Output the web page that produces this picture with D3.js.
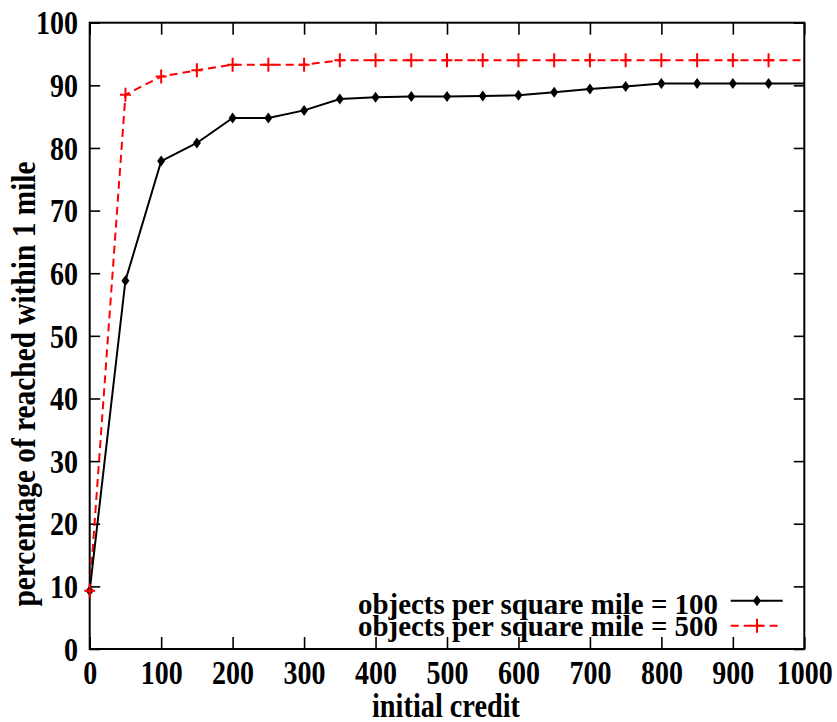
<!DOCTYPE html>
<html>
<head>
<meta charset="utf-8">
<script src="https://cdn.jsdelivr.net/npm/d3@7"></script>
<style>
  html, body { margin: 0; padding: 0; background: #fff; }
  svg { display: block; }
  text { font-family: "Liberation Serif", "Times New Roman", serif; font-weight: bold; fill: #000; }
</style>
</head>
<body>
<svg id="chart" width="837" height="722"></svg>
<script>
// Initial credit values (x) shared by both series
const credits = [0, 50, 100, 150, 200, 250, 300, 350, 400, 450, 500,
                 550, 600, 650, 700, 750, 800, 850, 900, 950, 1000];
// Percentage of objects reached within 1 mile, density 100 per square mile
const reached100 = [9.3, 58.8, 77.9, 80.8, 84.8, 84.8, 86.0, 87.8, 88.1, 88.2, 88.2,
                    88.3, 88.4, 88.9, 89.4, 89.8, 90.3, 90.3, 90.3, 90.3, 90.3];
// Percentage of objects reached within 1 mile, density 500 per square mile
const reached500 = [9.3, 88.5, 91.4, 92.4, 93.3, 93.3, 93.3, 94.0, 94.0, 94.0, 94.0,
                    94.0, 94.0, 94.0, 94.0, 94.0, 94.0, 94.0, 94.0, 94.0, 94.0];
const seriesLabels = ["objects per square mile = 100", "objects per square mile = 500"];
const xTicks = [0, 100, 200, 300, 400, 500, 600, 700, 800, 900, 1000];
const yTicks = [0, 10, 20, 30, 40, 50, 60, 70, 80, 90, 100];
const xTitle = "initial credit";
const yTitle = "percentage of reached within 1 mile";

const svg = d3.select("#chart");
const plot = { left: 89.7, right: 804.3, top: 22.7, bottom: 649 };

const x = d3.scaleLinear().domain([0, 1000]).range([plot.left, plot.right]);
const y = d3.scaleLinear().domain([0, 100]).range([plot.bottom, plot.top]);

// Fit a text element to a given advance width
function fit(sel, width) {
  sel.attr("textLength", width).attr("lengthAdjust", "spacingAndGlyphs");
}

// Axes with inward ticks on all four sides
const axB = svg.append("g").attr("transform", `translate(0,${plot.bottom})`)
  .call(d3.axisBottom(x).tickValues(xTicks).tickSize(-12).tickPadding(0).tickFormat(d3.format("d")));
const axT = svg.append("g").attr("transform", `translate(0,${plot.top})`)
  .call(d3.axisTop(x).tickValues(xTicks).tickSize(-12).tickFormat(""));
const axL = svg.append("g").attr("transform", `translate(${plot.left},0)`)
  .call(d3.axisLeft(y).tickValues(yTicks).tickSize(-10.5).tickPadding(0).tickFormat(d3.format("d")));
const axR = svg.append("g").attr("transform", `translate(${plot.right},0)`)
  .call(d3.axisRight(y).tickValues(yTicks).tickSize(-10.5).tickFormat(""));

[axB, axT, axL, axR].forEach(g => {
  g.select(".domain").remove();
  g.selectAll(".tick line").attr("stroke", "#000").attr("stroke-width", 1.6);
});

axB.selectAll(".tick text")
  .attr("y", 34.5).attr("dy", null)
  .attr("font-size", 34).attr("font-family", null)
  .each(function(d) { fit(d3.select(this), 14 * String(d).length); });

axL.selectAll(".tick text")
  .attr("x", -11.7).attr("dy", "0.33em")
  .attr("font-size", 34).attr("font-family", null)
  .each(function(d) { fit(d3.select(this), 14 * String(d).length); });

// Plot frame
svg.append("rect")
  .attr("x", plot.left).attr("y", plot.top)
  .attr("width", plot.right - plot.left).attr("height", plot.bottom - plot.top)
  .attr("fill", "none").attr("stroke", "#000").attr("stroke-width", 2);

// Clip lines to the plot box
svg.append("clipPath").attr("id", "plotclip").append("rect")
  .attr("x", plot.left).attr("y", plot.top - 20)
  .attr("width", plot.right - plot.left).attr("height", plot.bottom - plot.top + 40);

const data100 = credits.map((c, i) => ({ x: c, y: reached100[i] }));
const data500 = credits.map((c, i) => ({ x: c, y: reached500[i] }));

const line = d3.line().x(d => x(d.x)).y(d => y(d.y));

const diamond = "M0,-5.5L4,0L0,5.5L-4,0Z";
const plus = "M-5.5,0H5.5M0,-7V7";

// Series: density 500 (red dashed, plus markers)
svg.append("path").datum(data500)
  .attr("clip-path", "url(#plotclip)")
  .attr("d", line).attr("fill", "none")
  .attr("stroke", "#ff0000").attr("stroke-width", 2)
  .attr("stroke-dasharray", "8,5");

// Series: density 100 (black solid, diamond markers)
svg.append("path").datum(data100)
  .attr("clip-path", "url(#plotclip)")
  .attr("d", line).attr("fill", "none")
  .attr("stroke", "#000").attr("stroke-width", 2);

// Markers (none drawn on the right frame)
svg.append("g").selectAll("path")
  .data(data100.filter(d => d.x < 1000)).join("path")
  .attr("transform", d => `translate(${x(d.x)},${y(d.y)})`)
  .attr("d", diamond).attr("fill", "#000");

svg.append("g").selectAll("path")
  .data(data500.filter(d => d.x < 1000)).join("path")
  .attr("transform", d => `translate(${x(d.x)},${y(d.y)})`)
  .attr("d", plus).attr("fill", "none")
  .attr("stroke", "#ff0000").attr("stroke-width", 2);

// Axis titles
svg.append("text")
  .attr("x", (plot.left + plot.right) / 2 - 1).attr("y", 716.5)
  .attr("text-anchor", "middle").attr("font-size", 34)
  .text(xTitle).call(fit, 148);

svg.append("text")
  .attr("transform", "translate(35,384) rotate(-90)")
  .attr("text-anchor", "middle").attr("font-size", 34)
  .text(yTitle).call(fit, 445);

// Legend
const legend = svg.append("g");
const legendRows = [
  { label: seriesLabels[0], baseline: 613.5, lineY: 600.7, color: "#000", dash: null, mark: diamond, fill: "#000" },
  { label: seriesLabels[1], baseline: 635.5, lineY: 625.7, color: "#ff0000", dash: "8,5", mark: plus, fill: "none" }
];
legendRows.forEach(r => {
  legend.append("text")
    .attr("x", 718).attr("y", r.baseline)
    .attr("text-anchor", "end").attr("font-size", 30)
    .text(r.label).call(fit, 360);
  legend.append("line")
    .attr("x1", 730.7).attr("x2", 782.7)
    .attr("y1", r.lineY).attr("y2", r.lineY)
    .attr("stroke", r.color).attr("stroke-width", 2)
    .attr("stroke-dasharray", r.dash);
  legend.append("path")
    .attr("transform", `translate(757,${r.lineY})`)
    .attr("d", r.mark).attr("fill", r.fill)
    .attr("stroke", r.fill === "none" ? r.color : null)
    .attr("stroke-width", 2);
});
</script>
</body>
</html>
